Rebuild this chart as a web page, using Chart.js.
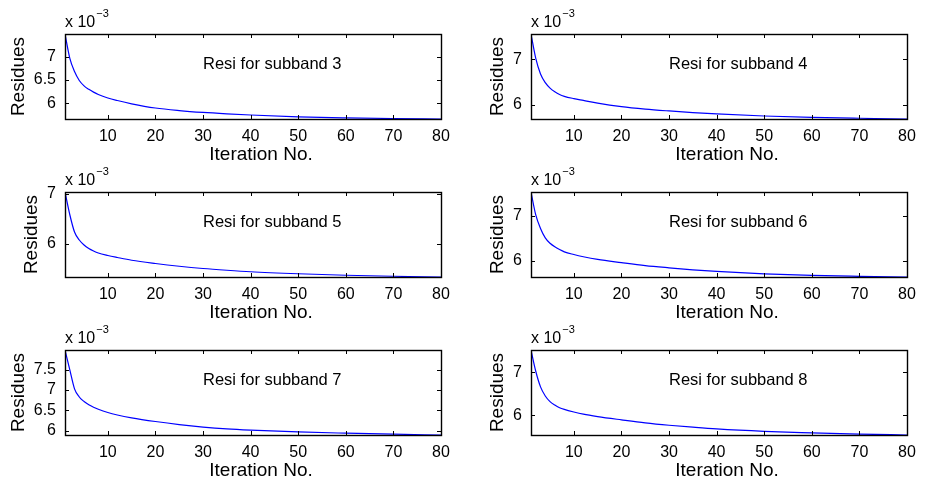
<!DOCTYPE html>
<html>
<head>
<meta charset="utf-8">
<script src="https://cdn.jsdelivr.net/npm/chart.js@4.4.1/dist/chart.umd.min.js"></script>
<style>
  html, body { margin: 0; padding: 0; background: #fff; overflow: hidden; }
  #fig { position: relative; width: 929px; height: 482px; }
  #fig canvas { position: absolute; }
</style>
</head>
<body>
<div id="fig"></div>
<script>
// residues are given in units of 1e-3 (the "x 10^-3" axis multiplier)
const iterations = [1, 2, 3, 4, 5, 6, 7, 8, 10, 12, 15, 20, 25, 30, 35, 40, 50, 60, 70, 80];
const xTicks = [10, 20, 30, 40, 50, 60, 70, 80];
const subbands = [3, 4, 5, 6, 7, 8];

const resi3 = [7.486, 6.97, 6.68, 6.49, 6.375, 6.30, 6.24, 6.19, 6.115, 6.06, 5.99, 5.90, 5.845, 5.805, 5.775, 5.75, 5.71, 5.688, 5.674, 5.664];
const resi4 = [7.554, 7.02, 6.68, 6.49, 6.37, 6.29, 6.23, 6.19, 6.14, 6.10, 6.04, 5.963, 5.91, 5.87, 5.835, 5.805, 5.76, 5.73, 5.71, 5.694];
const resi5 = [7.03, 6.58, 6.23, 6.07, 5.97, 5.90, 5.85, 5.81, 5.76, 5.72, 5.665, 5.60, 5.545, 5.50, 5.465, 5.435, 5.395, 5.365, 5.345, 5.33];
const resi6 = [7.53, 7.02, 6.72, 6.51, 6.39, 6.31, 6.25, 6.20, 6.14, 6.09, 6.03, 5.96, 5.895, 5.845, 5.80, 5.765, 5.71, 5.675, 5.655, 5.64];
const resi7 = [7.98, 7.50, 7.03, 6.83, 6.72, 6.64, 6.58, 6.53, 6.45, 6.39, 6.32, 6.23, 6.155, 6.095, 6.05, 6.02, 5.975, 5.945, 5.92, 5.90];
const resi8 = [7.51, 7.02, 6.66, 6.45, 6.32, 6.24, 6.18, 6.14, 6.08, 6.03, 5.975, 5.90, 5.83, 5.775, 5.73, 5.69, 5.635, 5.60, 5.57, 5.55];

const yTicks3 = [6, 6.5, 7];
const yTicks4 = [6, 7];
const yTicks5 = [6, 7];
const yTicks6 = [6, 7];
const yTicks7 = [6, 6.5, 7, 7.5];
const yTicks8 = [6, 7];

const series = [resi3, resi4, resi5, resi6, resi7, resi8];
const yTickSets = [yTicks3, yTicks4, yTicks5, yTicks6, yTicks7, yTicks8];

const FONT = '"Liberation Sans", Arial, Helvetica, sans-serif';
const tickFont = { family: FONT, size: 16 };

// box, inward tick marks and the matlab-style texts
const framePlugin = {
  id: 'frame',
  afterDraw(chart, args, opts) {
    const { ctx, chartArea: a, scales: { x, y } } = chart;
    ctx.save();
    ctx.strokeStyle = '#000';
    ctx.lineWidth = 1.4;
    ctx.strokeRect(a.left + 0.5, a.top + 0.5, a.right - a.left, a.bottom - a.top);

    const len = 4;
    ctx.lineWidth = 1;
    ctx.beginPath();
    x.ticks.forEach(t => {
      const px = Math.round(x.getPixelForValue(t.value)) + 0.5;
      ctx.moveTo(px, a.bottom); ctx.lineTo(px, a.bottom - len);
      ctx.moveTo(px, a.top); ctx.lineTo(px, a.top + len);
    });
    y.ticks.forEach(t => {
      const py = Math.round(y.getPixelForValue(t.value)) + 0.5;
      ctx.moveTo(a.left, py); ctx.lineTo(a.left + len, py);
      ctx.moveTo(a.right, py); ctx.lineTo(a.right - len, py);
    });
    ctx.stroke();

    ctx.fillStyle = '#000';

    // exponent note above the axes
    ctx.textAlign = 'left';
    ctx.textBaseline = 'alphabetic';
    ctx.font = '16px ' + FONT;
    ctx.fillText('x 10', a.left, a.top - 7);
    const w = ctx.measureText('x 10').width;
    ctx.font = '11px ' + FONT;
    ctx.fillText('\u22123', a.left + w + 1, a.top - 17);

    // annotation inside the axes
    ctx.font = '16.5px ' + FONT;
    ctx.fillText('Resi for subband ' + opts.band, x.getPixelForValue(30), a.top + 35);

    // x label
    ctx.font = '19px ' + FONT;
    ctx.textAlign = 'center';
    ctx.fillText('Iteration No.', (a.left + a.right) / 2 + 8, a.bottom + 41);

    // y label, placed next to the widest tick label
    ctx.font = '16px ' + FONT;
    const labelW = Math.max(...y.ticks.map(t => ctx.measureText(t.label).width));
    const bx = a.left - 9 - labelW - 10;
    ctx.translate(bx, (a.top + a.bottom) / 2);
    ctx.rotate(-Math.PI / 2);
    ctx.font = '19px ' + FONT;
    ctx.fillText('Residues', 0, 0);
    ctx.restore();
  }
};

const fig = document.getElementById('fig');

subbands.forEach((band, i) => {
  const values = series[i];
  const yTicks = yTickSets[i];
  const col = i % 2;
  const row = Math.floor(i / 2);

  const canvas = document.createElement('canvas');
  canvas.width = 464;
  canvas.height = 166;
  canvas.style.left = (col * 466) + 'px';
  canvas.style.top = (row * 158) + 'px';
  fig.appendChild(canvas);

  new Chart(canvas, {
    type: 'line',
    data: {
      datasets: [{
        data: iterations.map((it, k) => ({ x: it, y: values[k] })),
        borderColor: '#0000ff',
        borderWidth: 1.2,
        pointRadius: 0,
        cubicInterpolationMode: 'monotone',
        fill: false
      }]
    },
    options: {
      responsive: false,
      animation: false,
      devicePixelRatio: 1,
      layout: { padding: { top: 34, right: 23, left: 0, bottom: 0 } },
      plugins: {
        legend: { display: false },
        tooltip: { enabled: false },
        frame: { band: band }
      },
      scales: {
        x: {
          type: 'linear',
          min: 1,
          max: 80,
          grid: { display: false, drawTicks: false },
          border: { display: false },
          afterBuildTicks: s => { s.ticks = xTicks.map(v => ({ value: v })); },
          afterFit: s => { s.height = 47; },
          ticks: { font: tickFont, color: '#000', padding: 8, maxRotation: 0, autoSkip: false }
        },
        y: {
          type: 'linear',
          min: Math.min(...values),
          max: Math.max(...values),
          grid: { display: false, drawTicks: false },
          border: { display: false },
          afterBuildTicks: s => { s.ticks = yTicks.map(v => ({ value: v })); },
          afterFit: s => { s.width = 65; },
          ticks: { font: tickFont, color: '#000', padding: 9, autoSkip: false, callback: v => String(v) }
        }
      }
    },
    plugins: [framePlugin]
  });
});
</script>
</body>
</html>
